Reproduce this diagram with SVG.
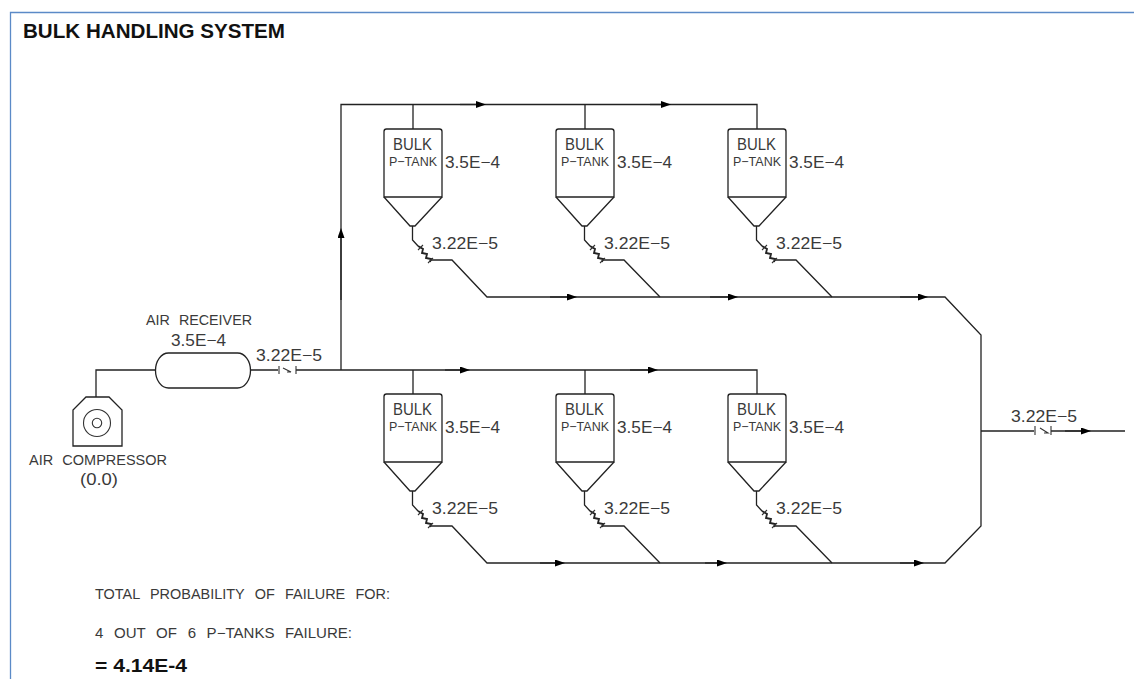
<svg xmlns="http://www.w3.org/2000/svg" width="1134" height="679" viewBox="0 0 1134 679">
<style>
.l{fill:none;stroke:#222;stroke-width:1.3}
.v{fill:none;stroke:#333;stroke-width:1.1}
.z{fill:none;stroke:#222;stroke-width:1.8}
text{font-family:"Liberation Sans",Arial,sans-serif;fill:#3a3a3a}
.a{font-size:16.5px}
.p{font-size:12.5px}
.c{font-size:14px;word-spacing:5px}
.n{font-size:14px;word-spacing:6px}
.b{font-weight:bold;fill:#111}
</style>
<defs>
<marker id="ah" markerWidth="10" markerHeight="8" refX="5" refY="3.500" orient="auto" markerUnits="userSpaceOnUse"><path d="M0,0L10,3.500L0,7z" fill="#000"/></marker>
<g id="tank">
<path class="l" d="M384,197V131.500Q384,129 386.500,129H439.500Q442,129 442,131.500V197Z"/>
<path class="l" d="M384,197L410,226H415L442,197"/>
<path class="l" d="M412.500,226V240L418,246"/>
<path class="z" d="M418,246L423,249L422,253L427,254L426,258L431,259L430,262"/>
<path class="v" d="M418,250L423,245M428,263L433,258"/>
<text class="a" x="393" y="150" textLength="39" lengthAdjust="spacingAndGlyphs">BULK</text>
<text class="p" x="389" y="166" textLength="48" lengthAdjust="spacingAndGlyphs">P−TANK</text>
<text class="a" x="445" y="168" textLength="55" lengthAdjust="spacingAndGlyphs">3.5E−4</text>
<text class="a" x="432" y="249" textLength="66" lengthAdjust="spacingAndGlyphs">3.22E−5</text>
</g>
</defs>
<rect width="1134" height="679" fill="#fff"/>
<path d="M10.500,679V12.500H1134" fill="none" stroke="#5b8ac7" stroke-width="1.300"/>
<text x="23" y="38" class="b" style="font-size:20px" textLength="262" lengthAdjust="spacingAndGlyphs">BULK HANDLING SYSTEM</text>

<g id="connectors">
<path class="l" d="M96,397V370H155"/>
<path class="l" d="M250,370H278M296,370H757V394"/>
<path class="l" d="M413,370V394M585,370V394"/>
<path class="l" d="M341,370V104.500H757V129"/>
<path class="l" d="M413,104.500V129M585,104.500V129"/>
<path class="l" d="M431,260H452L487,297H945L981,335V526L945,563H487L452,526H431"/>
<path class="l" d="M603,260H624L660,297M775,260H796L832,297"/>
<path class="l" d="M603,526H624L660,563M775,526H796L832,563"/>
<path class="l" d="M981,431H1034M1051,431H1125"/>
<path class="v" d="M279,366V374M296,366V374M1035,426V435M1051,426V435"/>
<path class="v" d="M283,368L291,372L287,372M1040,428L1048,433L1044,433"/>
<path class="l" marker-end="url(#ah)" d="M341,300V233"/>
<path class="l" marker-end="url(#ah)" d="M460,104.500H481"/>
<path class="l" marker-end="url(#ah)" d="M650,104.500H666"/>
<path class="l" marker-end="url(#ah)" d="M550,297H572"/>
<path class="l" marker-end="url(#ah)" d="M710,297H733"/>
<path class="l" marker-end="url(#ah)" d="M900,297H923"/>
<path class="l" marker-end="url(#ah)" d="M445,370H465"/>
<path class="l" marker-end="url(#ah)" d="M630,370H653"/>
<path class="l" marker-end="url(#ah)" d="M540,563H560"/>
<path class="l" marker-end="url(#ah)" d="M705,563H722"/>
<path class="l" marker-end="url(#ah)" d="M900,563H919"/>
<path class="l" marker-end="url(#ah)" d="M1065,431H1086"/>
</g>

<g id="tank-t1"><use href="#tank"/></g>
<g id="tank-t2"><use href="#tank" x="172"/></g>
<g id="tank-t3"><use href="#tank" x="344"/></g>
<g id="tank-b1"><use href="#tank" y="265"/></g>
<g id="tank-b2"><use href="#tank" x="172" y="265"/></g>
<g id="tank-b3"><use href="#tank" x="344" y="265"/></g>

<g id="air-receiver">
<rect class="l" x="155.500" y="353" width="95" height="35" rx="13" ry="17.500"/>
<text class="c" x="146" y="325" textLength="106" lengthAdjust="spacingAndGlyphs">AIR RECEIVER</text>
<text class="a" x="171" y="346" textLength="55" lengthAdjust="spacingAndGlyphs">3.5E−4</text>
<text class="a" x="256" y="361" textLength="66" lengthAdjust="spacingAndGlyphs">3.22E−5</text>
</g>
<g id="air-compressor">
<path class="l" d="M73,446V410L86,397H109L122,410V446Z"/>
<circle class="v" cx="97" cy="423" r="13.500"/>
<circle class="v" cx="97" cy="423" r="4.700"/>
<text class="c" x="29" y="465" textLength="138" lengthAdjust="spacingAndGlyphs">AIR COMPRESSOR</text>
<text class="a" x="80" y="485" textLength="38" lengthAdjust="spacingAndGlyphs">(0.0)</text>
</g>
<text class="a" x="1011" y="422" textLength="66" lengthAdjust="spacingAndGlyphs">3.22E−5</text>
<text class="n" x="95" y="599" textLength="295" lengthAdjust="spacingAndGlyphs">TOTAL PROBABILITY OF FAILURE FOR:</text>
<text class="n" x="95" y="638" textLength="257" lengthAdjust="spacingAndGlyphs">4 OUT OF 6 P−TANKS FAILURE:</text>
<text class="b" x="95" y="672" style="font-size:18px" textLength="92" lengthAdjust="spacingAndGlyphs">= 4.14E-4</text>
</svg>
